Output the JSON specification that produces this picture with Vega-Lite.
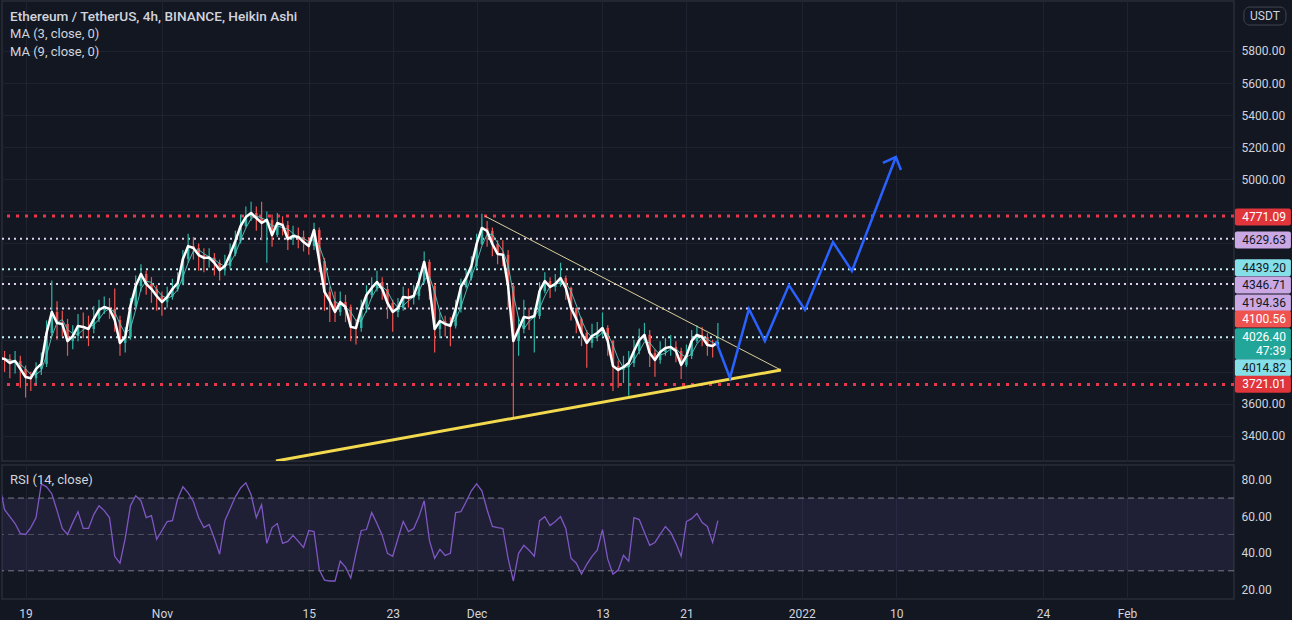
{
"$schema": "https://vega.github.io/schema/vega-lite/v6.json",
"background": "#131722",
"padding": 0,
"spacing": 2,
"config": {
 "view": {"stroke": "#2a2e39", "strokeWidth": 1.5},
 "axis": {"labelColor": "#d1d4dc", "labelFont": "Roboto", "labelFontSize": 12, "gridColor": "#1f2331", "gridWidth": 1, "domain": false, "ticks": false, "title": null, "labelOverlap": false},
 "text": {"font": "Roboto"}
},
"datasets": {
 "candles": [
{"t":"2021-10-16T12:00:00Z","o":3870,"h":3950,"l":3820,"c":3886,"rsi":77.8},
{"t":"2021-10-17T00:00:00Z","o":3886,"h":3930,"l":3800,"c":3880,"rsi":63.6},
{"t":"2021-10-17T12:00:00Z","o":3880,"h":3910,"l":3760,"c":3855,"rsi":59.8},
{"t":"2021-10-18T00:00:00Z","o":3855,"h":3930,"l":3790,"c":3868,"rsi":56.0},
{"t":"2021-10-18T12:00:00Z","o":3868,"h":3900,"l":3700,"c":3818,"rsi":50.5},
{"t":"2021-10-19T00:00:00Z","o":3818,"h":3840,"l":3640,"c":3768,"rsi":50.0},
{"t":"2021-10-19T12:00:00Z","o":3768,"h":3800,"l":3680,"c":3760,"rsi":53.8},
{"t":"2021-10-20T00:00:00Z","o":3760,"h":3860,"l":3720,"c":3818,"rsi":59.3},
{"t":"2021-10-20T12:00:00Z","o":3818,"h":3920,"l":3780,"c":3849,"rsi":77.8},
{"t":"2021-10-21T00:00:00Z","o":3849,"h":4120,"l":3830,"c":4042,"rsi":76.2},
{"t":"2021-10-21T12:00:00Z","o":4042,"h":4370,"l":4020,"c":4173,"rsi":72.4},
{"t":"2021-10-22T00:00:00Z","o":4173,"h":4240,"l":4000,"c":4104,"rsi":63.1},
{"t":"2021-10-22T12:00:00Z","o":4104,"h":4180,"l":4020,"c":4098,"rsi":53.3},
{"t":"2021-10-23T00:00:00Z","o":4098,"h":4130,"l":3900,"c":3992,"rsi":50.0},
{"t":"2021-10-23T12:00:00Z","o":3992,"h":4090,"l":3940,"c":4023,"rsi":56.5},
{"t":"2021-10-24T00:00:00Z","o":4023,"h":4160,"l":3990,"c":4086,"rsi":62.5},
{"t":"2021-10-24T12:00:00Z","o":4086,"h":4170,"l":4010,"c":4080,"rsi":53.3},
{"t":"2021-10-25T00:00:00Z","o":4080,"h":4150,"l":3960,"c":4067,"rsi":53.3},
{"t":"2021-10-25T12:00:00Z","o":4067,"h":4210,"l":4040,"c":4129,"rsi":60.9},
{"t":"2021-10-26T00:00:00Z","o":4129,"h":4250,"l":4110,"c":4186,"rsi":65.8},
{"t":"2021-10-26T12:00:00Z","o":4186,"h":4270,"l":4160,"c":4204,"rsi":63.1},
{"t":"2021-10-27T00:00:00Z","o":4204,"h":4260,"l":4130,"c":4192,"rsi":59.3},
{"t":"2021-10-27T12:00:00Z","o":4192,"h":4320,"l":4050,"c":4123,"rsi":38.0},
{"t":"2021-10-28T00:00:00Z","o":4123,"h":4150,"l":3900,"c":3980,"rsi":34.2},
{"t":"2021-10-28T12:00:00Z","o":3980,"h":4080,"l":3920,"c":4017,"rsi":47.8},
{"t":"2021-10-29T00:00:00Z","o":4017,"h":4260,"l":4000,"c":4210,"rsi":65.8},
{"t":"2021-10-29T12:00:00Z","o":4210,"h":4400,"l":4190,"c":4335,"rsi":71.3},
{"t":"2021-10-30T00:00:00Z","o":4335,"h":4470,"l":4300,"c":4410,"rsi":68.5},
{"t":"2021-10-30T12:00:00Z","o":4410,"h":4430,"l":4280,"c":4348,"rsi":59.3},
{"t":"2021-10-31T00:00:00Z","o":4348,"h":4390,"l":4230,"c":4316,"rsi":60.4},
{"t":"2021-10-31T12:00:00Z","o":4316,"h":4340,"l":4180,"c":4273,"rsi":47.3},
{"t":"2021-11-01T00:00:00Z","o":4273,"h":4300,"l":4150,"c":4235,"rsi":52.2},
{"t":"2021-11-01T12:00:00Z","o":4235,"h":4330,"l":4200,"c":4267,"rsi":57.1},
{"t":"2021-11-02T00:00:00Z","o":4267,"h":4380,"l":4250,"c":4316,"rsi":57.6},
{"t":"2021-11-02T12:00:00Z","o":4316,"h":4420,"l":4300,"c":4354,"rsi":69.6},
{"t":"2021-11-03T00:00:00Z","o":4354,"h":4560,"l":4340,"c":4503,"rsi":76.2},
{"t":"2021-11-03T12:00:00Z","o":4503,"h":4660,"l":4480,"c":4584,"rsi":72.9},
{"t":"2021-11-04T00:00:00Z","o":4584,"h":4640,"l":4500,"c":4572,"rsi":68.0},
{"t":"2021-11-04T12:00:00Z","o":4572,"h":4600,"l":4430,"c":4528,"rsi":59.3},
{"t":"2021-11-05T00:00:00Z","o":4528,"h":4570,"l":4420,"c":4510,"rsi":53.8},
{"t":"2021-11-05T12:00:00Z","o":4510,"h":4570,"l":4450,"c":4512,"rsi":55.5},
{"t":"2021-11-06T00:00:00Z","o":4512,"h":4540,"l":4400,"c":4479,"rsi":47.8},
{"t":"2021-11-06T12:00:00Z","o":4479,"h":4500,"l":4370,"c":4435,"rsi":39.1},
{"t":"2021-11-07T00:00:00Z","o":4435,"h":4530,"l":4400,"c":4460,"rsi":57.6},
{"t":"2021-11-07T12:00:00Z","o":4460,"h":4600,"l":4440,"c":4535,"rsi":64.2},
{"t":"2021-11-08T00:00:00Z","o":4535,"h":4680,"l":4520,"c":4616,"rsi":70.7},
{"t":"2021-11-08T12:00:00Z","o":4616,"h":4780,"l":4600,"c":4709,"rsi":75.6},
{"t":"2021-11-09T00:00:00Z","o":4709,"h":4830,"l":4700,"c":4765,"rsi":78.4},
{"t":"2021-11-09T12:00:00Z","o":4765,"h":4860,"l":4740,"c":4790,"rsi":71.8},
{"t":"2021-11-10T00:00:00Z","o":4790,"h":4830,"l":4680,"c":4759,"rsi":59.3},
{"t":"2021-11-10T12:00:00Z","o":4759,"h":4860,"l":4620,"c":4728,"rsi":66.4},
{"t":"2021-11-11T00:00:00Z","o":4728,"h":4800,"l":4480,"c":4747,"rsi":45.1},
{"t":"2021-11-11T12:00:00Z","o":4747,"h":4780,"l":4580,"c":4653,"rsi":53.8},
{"t":"2021-11-12T00:00:00Z","o":4653,"h":4790,"l":4640,"c":4728,"rsi":56.0},
{"t":"2021-11-12T12:00:00Z","o":4728,"h":4770,"l":4650,"c":4715,"rsi":45.1},
{"t":"2021-11-13T00:00:00Z","o":4715,"h":4740,"l":4560,"c":4628,"rsi":46.2},
{"t":"2021-11-13T12:00:00Z","o":4628,"h":4710,"l":4590,"c":4647,"rsi":49.5},
{"t":"2021-11-14T00:00:00Z","o":4647,"h":4700,"l":4570,"c":4641,"rsi":46.2},
{"t":"2021-11-14T12:00:00Z","o":4641,"h":4680,"l":4550,"c":4609,"rsi":42.9},
{"t":"2021-11-15T00:00:00Z","o":4609,"h":4640,"l":4530,"c":4584,"rsi":52.2},
{"t":"2021-11-15T12:00:00Z","o":4584,"h":4730,"l":4560,"c":4684,"rsi":51.6},
{"t":"2021-11-16T00:00:00Z","o":4684,"h":4700,"l":4420,"c":4491,"rsi":30.4},
{"t":"2021-11-16T12:00:00Z","o":4491,"h":4510,"l":4180,"c":4298,"rsi":24.9},
{"t":"2021-11-17T00:00:00Z","o":4298,"h":4330,"l":4110,"c":4242,"rsi":24.4},
{"t":"2021-11-17T12:00:00Z","o":4242,"h":4300,"l":4110,"c":4173,"rsi":24.4},
{"t":"2021-11-18T00:00:00Z","o":4173,"h":4300,"l":4150,"c":4235,"rsi":35.3},
{"t":"2021-11-18T12:00:00Z","o":4235,"h":4280,"l":4110,"c":4204,"rsi":32.0},
{"t":"2021-11-19T00:00:00Z","o":4204,"h":4220,"l":3990,"c":4080,"rsi":26.0},
{"t":"2021-11-19T12:00:00Z","o":4080,"h":4130,"l":3970,"c":4073,"rsi":39.6},
{"t":"2021-11-20T00:00:00Z","o":4073,"h":4250,"l":4050,"c":4192,"rsi":52.2},
{"t":"2021-11-20T12:00:00Z","o":4192,"h":4340,"l":4170,"c":4279,"rsi":52.7},
{"t":"2021-11-21T00:00:00Z","o":4279,"h":4390,"l":4260,"c":4323,"rsi":62.0},
{"t":"2021-11-21T12:00:00Z","o":4323,"h":4430,"l":4300,"c":4360,"rsi":56.0},
{"t":"2021-11-22T00:00:00Z","o":4360,"h":4390,"l":4250,"c":4316,"rsi":49.5},
{"t":"2021-11-22T12:00:00Z","o":4316,"h":4340,"l":4130,"c":4229,"rsi":39.6},
{"t":"2021-11-23T00:00:00Z","o":4229,"h":4250,"l":4050,"c":4173,"rsi":38.0},
{"t":"2021-11-23T12:00:00Z","o":4173,"h":4260,"l":4140,"c":4198,"rsi":47.8},
{"t":"2021-11-24T00:00:00Z","o":4198,"h":4330,"l":4180,"c":4267,"rsi":57.1},
{"t":"2021-11-24T12:00:00Z","o":4267,"h":4320,"l":4200,"c":4262,"rsi":51.6},
{"t":"2021-11-25T00:00:00Z","o":4262,"h":4340,"l":4220,"c":4273,"rsi":53.3},
{"t":"2021-11-25T12:00:00Z","o":4273,"h":4420,"l":4250,"c":4366,"rsi":59.8},
{"t":"2021-11-26T00:00:00Z","o":4366,"h":4550,"l":4350,"c":4485,"rsi":68.5},
{"t":"2021-11-26T12:00:00Z","o":4485,"h":4500,"l":4250,"c":4335,"rsi":46.7},
{"t":"2021-11-27T00:00:00Z","o":4335,"h":4350,"l":3920,"c":4067,"rsi":36.9},
{"t":"2021-11-27T12:00:00Z","o":4067,"h":4170,"l":4010,"c":4117,"rsi":41.8},
{"t":"2021-11-28T00:00:00Z","o":4117,"h":4150,"l":4020,"c":4098,"rsi":38.5},
{"t":"2021-11-28T12:00:00Z","o":4098,"h":4140,"l":3960,"c":4086,"rsi":39.6},
{"t":"2021-11-29T00:00:00Z","o":4086,"h":4250,"l":4070,"c":4192,"rsi":62.0},
{"t":"2021-11-29T12:00:00Z","o":4192,"h":4380,"l":4170,"c":4329,"rsi":62.5},
{"t":"2021-11-30T00:00:00Z","o":4329,"h":4440,"l":4320,"c":4385,"rsi":68.0},
{"t":"2021-11-30T12:00:00Z","o":4385,"h":4520,"l":4370,"c":4460,"rsi":74.0},
{"t":"2021-12-01T00:00:00Z","o":4460,"h":4660,"l":4440,"c":4597,"rsi":77.8},
{"t":"2021-12-01T12:00:00Z","o":4597,"h":4785,"l":4590,"c":4697,"rsi":74.0},
{"t":"2021-12-02T00:00:00Z","o":4697,"h":4740,"l":4580,"c":4678,"rsi":63.6},
{"t":"2021-12-02T12:00:00Z","o":4678,"h":4700,"l":4520,"c":4597,"rsi":54.4},
{"t":"2021-12-03T00:00:00Z","o":4597,"h":4620,"l":4470,"c":4535,"rsi":53.8},
{"t":"2021-12-03T12:00:00Z","o":4535,"h":4620,"l":4460,"c":4530,"rsi":53.3},
{"t":"2021-12-04T00:00:00Z","o":4530,"h":4560,"l":4200,"c":4335,"rsi":36.9},
{"t":"2021-12-04T12:00:00Z","o":4335,"h":4350,"l":3515,"c":3992,"rsi":24.4},
{"t":"2021-12-05T00:00:00Z","o":3992,"h":4140,"l":3900,"c":4067,"rsi":39.6},
{"t":"2021-12-05T12:00:00Z","o":4067,"h":4250,"l":4040,"c":4142,"rsi":44.0},
{"t":"2021-12-06T00:00:00Z","o":4142,"h":4200,"l":4060,"c":4136,"rsi":41.3},
{"t":"2021-12-06T12:00:00Z","o":4136,"h":4200,"l":3920,"c":4148,"rsi":38.0},
{"t":"2021-12-07T00:00:00Z","o":4148,"h":4360,"l":4130,"c":4304,"rsi":57.6},
{"t":"2021-12-07T12:00:00Z","o":4304,"h":4420,"l":4290,"c":4366,"rsi":59.8},
{"t":"2021-12-08T00:00:00Z","o":4366,"h":4390,"l":4260,"c":4329,"rsi":54.9},
{"t":"2021-12-08T12:00:00Z","o":4329,"h":4410,"l":4300,"c":4348,"rsi":57.1},
{"t":"2021-12-09T00:00:00Z","o":4348,"h":4480,"l":4330,"c":4385,"rsi":59.8},
{"t":"2021-12-09T12:00:00Z","o":4385,"h":4400,"l":4250,"c":4323,"rsi":53.3},
{"t":"2021-12-10T00:00:00Z","o":4323,"h":4330,"l":4120,"c":4198,"rsi":36.9},
{"t":"2021-12-10T12:00:00Z","o":4198,"h":4200,"l":4040,"c":4129,"rsi":34.2},
{"t":"2021-12-11T00:00:00Z","o":4129,"h":4140,"l":3960,"c":4042,"rsi":28.2},
{"t":"2021-12-11T12:00:00Z","o":4042,"h":4060,"l":3825,"c":3980,"rsi":33.6},
{"t":"2021-12-12T00:00:00Z","o":3980,"h":4100,"l":3950,"c":4023,"rsi":38.0},
{"t":"2021-12-12T12:00:00Z","o":4023,"h":4110,"l":3990,"c":4042,"rsi":41.3},
{"t":"2021-12-13T00:00:00Z","o":4042,"h":4170,"l":4020,"c":4073,"rsi":52.7},
{"t":"2021-12-13T12:00:00Z","o":4073,"h":4090,"l":3900,"c":3992,"rsi":36.4},
{"t":"2021-12-14T00:00:00Z","o":3992,"h":4000,"l":3680,"c":3836,"rsi":28.2},
{"t":"2021-12-14T12:00:00Z","o":3836,"h":3870,"l":3700,"c":3812,"rsi":30.4},
{"t":"2021-12-15T00:00:00Z","o":3812,"h":3900,"l":3730,"c":3830,"rsi":38.5},
{"t":"2021-12-15T12:00:00Z","o":3830,"h":3930,"l":3650,"c":3855,"rsi":35.3},
{"t":"2021-12-16T00:00:00Z","o":3855,"h":4000,"l":3830,"c":3930,"rsi":59.3},
{"t":"2021-12-16T12:00:00Z","o":3930,"h":4070,"l":3910,"c":3998,"rsi":58.2},
{"t":"2021-12-17T00:00:00Z","o":3998,"h":4105,"l":3990,"c":4030,"rsi":51.1},
{"t":"2021-12-17T12:00:00Z","o":4030,"h":4060,"l":3830,"c":3917,"rsi":44.0},
{"t":"2021-12-18T00:00:00Z","o":3917,"h":3940,"l":3770,"c":3874,"rsi":45.6},
{"t":"2021-12-18T12:00:00Z","o":3874,"h":3990,"l":3850,"c":3924,"rsi":50.0},
{"t":"2021-12-19T00:00:00Z","o":3924,"h":4010,"l":3900,"c":3949,"rsi":54.4},
{"t":"2021-12-19T12:00:00Z","o":3949,"h":4030,"l":3900,"c":3955,"rsi":51.1},
{"t":"2021-12-20T00:00:00Z","o":3955,"h":3990,"l":3860,"c":3930,"rsi":45.1},
{"t":"2021-12-20T12:00:00Z","o":3930,"h":3950,"l":3755,"c":3843,"rsi":38.0},
{"t":"2021-12-21T00:00:00Z","o":3843,"h":3970,"l":3830,"c":3899,"rsi":57.1},
{"t":"2021-12-21T12:00:00Z","o":3899,"h":4060,"l":3880,"c":3992,"rsi":58.7},
{"t":"2021-12-22T00:00:00Z","o":3992,"h":4090,"l":3980,"c":4030,"rsi":61.5},
{"t":"2021-12-22T12:00:00Z","o":4030,"h":4080,"l":3960,"c":4017,"rsi":56.5},
{"t":"2021-12-23T00:00:00Z","o":4017,"h":4040,"l":3900,"c":3967,"rsi":54.4},
{"t":"2021-12-23T12:00:00Z","o":3967,"h":4000,"l":3890,"c":3961,"rsi":45.6},
{"t":"2021-12-24T00:00:00Z","o":3961,"h":4104,"l":3950,"c":3985,"rsi":57.6}
 ],
 "levels": [
  {"p":4771.09,"kind":"red"},{"p":4629.63,"kind":"lav"},{"p":4439.20,"kind":"cyan"},{"p":4346.71,"kind":"lav"},{"p":4194.36,"kind":"lav"},{"p":4014.82,"kind":"cyan"},{"p":3721.01,"kind":"red"}
 ],
 "tags": [
  {"label":"4771.09","at":4765,"kind":"red"},
  {"label":"4629.63","at":4622,"kind":"lav"},
  {"label":"4439.20","at":4449,"kind":"cyan"},
  {"label":"4346.71","at":4341,"kind":"lav"},
  {"label":"4194.36","at":4229,"kind":"lav"},
  {"label":"4100.56","at":4129,"kind":"ma"},
  {"label":"4026.40","at":4019,"kind":"price"},
  {"label":"47:39","at":3932,"kind":"price"},
  {"label":"4014.82","at":3826,"kind":"cyan"},
  {"label":"3721.01","at":3722,"kind":"red"}
 ],
 "trend": [
  {"name":"yellow","t":"2021-11-11T20:53:00Z","p":3244},
  {"name":"yellow","t":"2021-12-30T00:14:00Z","p":3811},
  {"name":"tan","t":"2021-12-01T19:00:00Z","p":4771},
  {"name":"tan","t":"2021-12-30T00:14:00Z","p":3811}
 ],
 "proj": [
  {"seg":"path","t":"2021-12-23T19:26:00Z","p":3992},
  {"seg":"path","t":"2021-12-25T03:36:00Z","p":3762},
  {"seg":"path","t":"2021-12-26T23:02:00Z","p":4192},
  {"seg":"path","t":"2021-12-28T11:31:00Z","p":3992},
  {"seg":"path","t":"2021-12-30T18:29:00Z","p":4341},
  {"seg":"path","t":"2022-01-01T07:12:00Z","p":4186},
  {"seg":"path","t":"2022-01-03T23:17:00Z","p":4609},
  {"seg":"path","t":"2022-01-05T18:43:00Z","p":4429},
  {"seg":"path","t":"2022-01-09T23:17:00Z","p":5139},
  {"seg":"arrow","t":"2022-01-08T17:31:00Z","p":5102},
  {"seg":"arrow","t":"2022-01-09T23:17:00Z","p":5139},
  {"seg":"arrow","t":"2022-01-10T10:48:00Z","p":5058}
 ]
},
"vconcat": [
 {
  "width": 1232,
  "height": 460,
  "resolve": {"axis": {"y": "independent"}},
  "layer": [
   {
    "data": {"name": "levels"},
    "transform": [{"filter": "datum.kind == 'red'"}],
    "mark": {"type": "rule", "color": "#e8364a", "strokeWidth": 3, "strokeDash": [3, 6], "clip": true},
    "encoding": {
     "y": {"field": "p", "type": "quantitative",
      "scale": {"domain": [3244, 6111.7], "nice": false, "zero": false},
      "axis": {"orient": "right", "values": [3400,3600,3800,4000,4200,4400,4600,4800,5000,5200,5400,5600,5800],
       "labelExpr": "(datum.value >= 3800 && datum.value <= 4800) ? '' : format(datum.value, '.2f')",
       "labelOverlap": false, "labelPadding": 7, "labelBaseline": "middle"}}
    }
   },
   {
    "data": {"name": "levels"},
    "transform": [{"filter": "datum.kind == 'lav'"}],
    "mark": {"type": "rule", "color": "#ddd2ee", "strokeWidth": 2, "strokeDash": [2, 4], "clip": true},
    "encoding": {"y": {"field": "p", "type": "quantitative", "axis": null}}
   },
   {
    "data": {"name": "levels"},
    "transform": [{"filter": "datum.kind == 'cyan'"}],
    "mark": {"type": "rule", "color": "#c4eef3", "strokeWidth": 2, "strokeDash": [2, 4], "clip": true},
    "encoding": {"y": {"field": "p", "type": "quantitative", "axis": null}}
   },
   {
    "data": {"name": "candles"},
    "mark": {"type": "rule", "strokeWidth": 1.2, "clip": true},
    "encoding": {
     "x": {"field": "t", "type": "temporal",
      "scale": {"type": "utc", "domain": [{"year":2021,"month":10,"date":16,"hours":18,"minutes":4,"utc":true},{"year":2022,"month":2,"date":11,"hours":4,"minutes":52,"utc":true}]},
      "axis": {"labels": false, "grid": true, "values": [
        {"year":2021,"month":10,"date":19,"utc":true},{"year":2021,"month":11,"date":1,"utc":true},{"year":2021,"month":11,"date":15,"utc":true},{"year":2021,"month":11,"date":23,"utc":true},{"year":2021,"month":12,"date":1,"utc":true},{"year":2021,"month":12,"date":13,"utc":true},{"year":2021,"month":12,"date":21,"utc":true},{"year":2022,"month":1,"date":1,"utc":true},{"year":2022,"month":1,"date":10,"utc":true},{"year":2022,"month":1,"date":24,"utc":true},{"year":2022,"month":2,"date":1,"utc":true}]}},
     "y": {"field": "l", "type": "quantitative", "axis": null},
     "y2": {"field": "h"},
     "color": {"condition": {"test": "datum.c >= datum.o", "value": "#2fb3a5"}, "value": "#ef5350"}
    }
   },
   {
    "data": {"name": "candles"},
    "mark": {"type": "rule", "strokeWidth": 2.5, "clip": true},
    "encoding": {
     "x": {"field": "t", "type": "temporal"},
     "y": {"field": "o", "type": "quantitative", "axis": null},
     "y2": {"field": "c"},
     "color": {"condition": {"test": "datum.c >= datum.o", "value": "#2fb3a5"}, "value": "#ef5350"}
    }
   },
   {
    "data": {"name": "candles"},
    "transform": [{"window": [{"op": "mean", "field": "c", "as": "ma9"}], "frame": [-2, 0], "sort": [{"field": "t"}]}],
    "mark": {"type": "line", "color": "#56c9bd", "strokeWidth": 1, "opacity": 0.9, "clip": true},
    "encoding": {
     "x": {"field": "t", "type": "temporal"},
     "y": {"field": "ma9", "type": "quantitative", "axis": null}
    }
   },
   {
    "data": {"name": "candles"},
    "mark": {"type": "line", "color": "#ffffff", "strokeWidth": 2.5, "strokeJoin": "round", "clip": true},
    "encoding": {
     "x": {"field": "t", "type": "temporal"},
     "y": {"field": "c", "type": "quantitative", "axis": null}
    }
   },
   {
    "data": {"name": "trend"},
    "transform": [{"filter": "datum.name == 'tan'"}],
    "mark": {"type": "line", "color": "#d9cf9c", "strokeWidth": 1, "clip": true},
    "encoding": {
     "x": {"field": "t", "type": "temporal"},
     "y": {"field": "p", "type": "quantitative", "axis": null}
    }
   },
   {
    "data": {"name": "trend"},
    "transform": [{"filter": "datum.name == 'yellow'"}],
    "mark": {"type": "line", "color": "#f2d94e", "strokeWidth": 3, "clip": true},
    "encoding": {
     "x": {"field": "t", "type": "temporal"},
     "y": {"field": "p", "type": "quantitative", "axis": null}
    }
   },
   {
    "data": {"name": "proj"},
    "mark": {"type": "line", "color": "#2962ff", "strokeWidth": 2.5, "strokeJoin": "miter", "clip": true},
    "encoding": {
     "x": {"field": "t", "type": "temporal"},
     "y": {"field": "p", "type": "quantitative", "axis": null},
     "detail": {"field": "seg", "type": "nominal"}
    }
   },
   {
    "data": {"name": "tags"},
    "mark": {"type": "rect", "width": 56, "height": 17, "cornerRadius": 2},
    "encoding": {
     "x": {"datum": {"year":2022,"month":2,"date":13,"hours":23,"utc":true}, "type": "temporal"},
     "y": {"field": "at", "type": "quantitative", "axis": null},
     "color": {"field": "kind", "type": "nominal", "legend": null,
      "scale": {"domain": ["red","lav","cyan","ma","price"], "range": ["#e0353b","#c9a8e4","#84dfe9","#ef5350","#22a699"]}}
    }
   },
   {
    "data": {"name": "tags"},
    "mark": {"type": "text", "align": "right", "baseline": "middle", "fontSize": 12},
    "encoding": {
     "x": {"datum": {"year":2022,"month":2,"date":16,"hours":3,"minutes":40,"utc":true}, "type": "temporal"},
     "y": {"field": "at", "type": "quantitative", "axis": null},
     "text": {"field": "label"},
     "color": {"condition": {"test": "datum.kind == 'lav' || datum.kind == 'cyan'", "value": "#131722"}, "value": "#ffffff"}
    }
   },
   {
    "data": {"values": [{"unit": "USDT"}]},
    "mark": {"type": "rect", "width": 42, "height": 18, "cornerRadius": 6, "fill": "#131722", "stroke": "#434651", "strokeWidth": 1},
    "encoding": {
     "x": {"datum": {"year":2022,"month":2,"date":14,"hours":3,"minutes":40,"utc":true}, "type": "temporal"},
     "y": {"datum": 6018, "axis": null}
    }
   },
   {
    "data": {"values": [{"unit": "USDT"}]},
    "mark": {"type": "text", "align": "center", "baseline": "middle", "fontSize": 12, "color": "#d1d4dc"},
    "encoding": {
     "x": {"datum": {"year":2022,"month":2,"date":14,"hours":3,"minutes":40,"utc":true}, "type": "temporal"},
     "y": {"datum": 6018, "axis": null},
     "text": {"field": "unit"}
    }
   },
   {
    "data": {"values": [{"txt": "Ethereum / TetherUS, 4h, BINANCE, Heikin Ashi"}]},
    "mark": {"type": "text", "align": "left", "baseline": "middle", "fontSize": 13.6, "fontWeight": 500, "color": "#d1d4dc"},
    "encoding": {
     "x": {"datum": {"year":2021,"month":10,"date":17,"hours":12,"minutes":20,"utc":true}, "type": "temporal"},
     "y": {"datum": 6012, "axis": null},
     "text": {"field": "txt"}
    }
   },
   {
    "data": {"values": [{"txt": "MA (3, close, 0)\nMA (9, close, 0)"}]},
    "mark": {"type": "text", "align": "left", "baseline": "middle", "fontSize": 13, "lineBreak": "\n", "lineHeight": 17.5, "color": "#d1d4dc"},
    "encoding": {
     "x": {"datum": {"year":2021,"month":10,"date":17,"hours":12,"minutes":20,"utc":true}, "type": "temporal"},
     "y": {"datum": 5905, "axis": null},
     "text": {"field": "txt"}
    }
   }
  ]
 },
 {
  "width": 1232,
  "height": 134,
  "layer": [
   {
    "data": {"values": [{"band": "30-70"}]},
    "mark": {"type": "rect", "color": "#7e57c2", "opacity": 0.12},
    "encoding": {
     "y": {"datum": 70, "type": "quantitative",
      "scale": {"domain": [14.5, 88.2], "nice": false, "zero": false},
      "axis": {"orient": "right", "values": [20, 40, 60, 80], "format": ".2f", "labelPadding": 7, "labelOverlap": false}},
     "y2": {"datum": 30}
    }
   },
   {
    "data": {"values": [{"v": 70}, {"v": 50}, {"v": 30}]},
    "mark": {"type": "rule", "color": "#8a8d98", "strokeWidth": 1, "strokeDash": [6, 4]},
    "encoding": {
     "y": {"field": "v", "type": "quantitative"},
     "opacity": {"condition": {"test": "datum.v == 50", "value": 0.45}, "value": 0.85}
    }
   },
   {
    "data": {"name": "candles"},
    "mark": {"type": "line", "color": "#7e57c2", "strokeWidth": 1.3, "clip": true},
    "encoding": {
     "x": {"field": "t", "type": "temporal",
      "scale": {"type": "utc", "domain": [{"year":2021,"month":10,"date":16,"hours":18,"minutes":4,"utc":true},{"year":2022,"month":2,"date":11,"hours":4,"minutes":52,"utc":true}]},
      "axis": {"grid": true, "labelPadding": 9, "labelFontSize": 12, "values": [
        {"year":2021,"month":10,"date":19,"utc":true},{"year":2021,"month":11,"date":1,"utc":true},{"year":2021,"month":11,"date":15,"utc":true},{"year":2021,"month":11,"date":23,"utc":true},{"year":2021,"month":12,"date":1,"utc":true},{"year":2021,"month":12,"date":13,"utc":true},{"year":2021,"month":12,"date":21,"utc":true},{"year":2022,"month":1,"date":1,"utc":true},{"year":2022,"month":1,"date":10,"utc":true},{"year":2022,"month":1,"date":24,"utc":true},{"year":2022,"month":2,"date":1,"utc":true}],
       "labelExpr": "utcdate(datum.value) == 1 ? (utcmonth(datum.value) == 0 ? utcFormat(datum.value, '%Y') : utcFormat(datum.value, '%b')) : ('' + utcdate(datum.value))"}},
     "y": {"field": "rsi", "type": "quantitative"}
    }
   },
   {
    "data": {"values": [{"txt": "RSI (14, close)"}]},
    "mark": {"type": "text", "align": "left", "baseline": "middle", "fontSize": 13, "color": "#d1d4dc"},
    "encoding": {
     "x": {"datum": {"year":2021,"month":10,"date":17,"hours":12,"minutes":20,"utc":true}, "type": "temporal"},
     "y": {"datum": 79.95},
     "text": {"field": "txt"}
    }
   }
  ]
 }
]
}
